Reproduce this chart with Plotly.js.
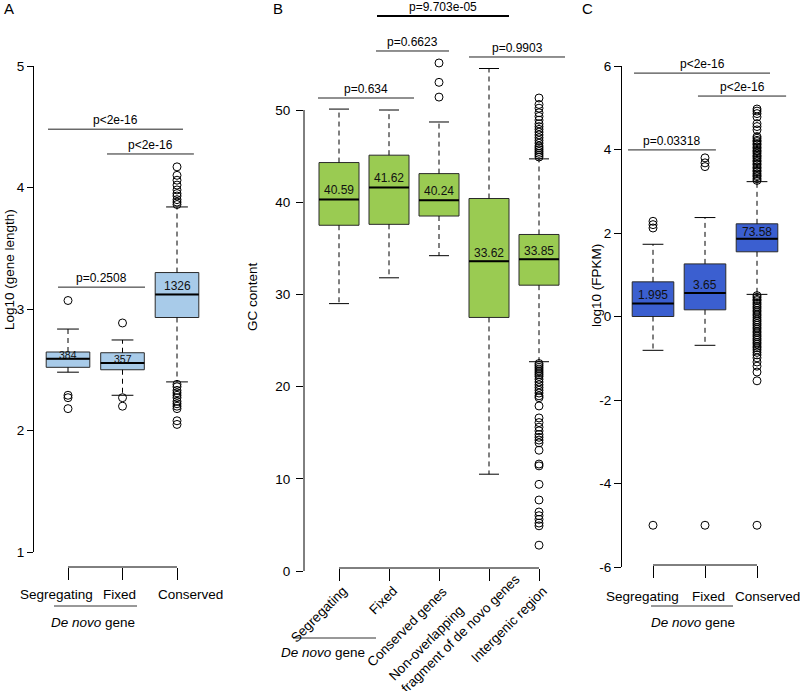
<!DOCTYPE html>
<html><head><meta charset="utf-8">
<script src="https://cdn.plot.ly/plotly-3.0.1.min.js"></script>
<style>html,body{margin:0;padding:0;background:#fff}#chart{width:800px;height:691px}</style>
</head><body><div id="chart"></div>
<script>
// ---------- Panel A : Log10 (gene length) ----------
const catsA  = ['Segregating', 'Fixed', 'Conserved'];
const q1A    = [2.52, 2.50, 2.93];
const medA   = [2.59, 2.555, 3.12];
const q3A    = [2.646, 2.64, 3.30];
const loA    = [2.48, 2.29, 2.40];
const hiA    = [2.835, 2.745, 3.84];
const outA   = [
  [3.07, 2.29, 2.27, 2.18],
  [2.885, 2.27, 2.20],
  [4.17, 4.10, 4.06, 4.02, 3.98, 3.95, 3.93, 3.90, 3.88, 3.86,
   2.38, 2.36, 2.33, 2.31, 2.29, 2.27, 2.24, 2.22, 2.20, 2.18, 2.08, 2.05]
];
const labA   = ['384', '357', '1326'];
const pvA    = ['p<2e-16', 'p<2e-16', 'p=0.2508'];
const tickA  = ['1', '2', '3', '4', '5'];

// ---------- Panel B : GC content ----------
const catsB  = ['Segregating', 'Fixed', 'Conserved genes',
                'Non-overlapping<br>fragment of de novo genes', 'Intergenic region'];
const q1B    = [37.5, 37.6, 38.5, 27.5, 31.0];
const medB   = [40.3, 41.6, 40.2, 33.6, 33.8];
const q3B    = [44.3, 45.1, 43.1, 40.4, 36.5];
const loB    = [29.0, 31.8, 34.2, 10.5, 22.7];
const hiB    = [50.1, 50.0, 48.7, 54.5, 44.7];
const outB   = [
  [],
  [],
  [55.1, 53.0, 51.4],
  [],
  [51.3, 50.6, 50.2, 49.7, 49.3, 48.9, 48.5, 48.2, 47.9, 47.6, 47.3, 47.0, 46.7, 46.4,
   46.1, 45.9, 45.7, 45.5, 45.3, 45.1, 44.9,
   22.5, 22.3, 22.1, 21.9, 21.7, 21.5, 21.3, 21.1, 20.8, 20.5, 20.2, 19.9, 19.6, 19.3,
   19.0, 18.8, 17.9, 16.6, 16.1, 15.6, 15.2, 14.8, 14.5, 14.2, 13.9, 13.1, 11.6, 11.4,
   9.4, 7.7, 6.4, 6.0, 5.6, 5.2, 4.9, 2.8]
];
const labB   = ['40.59', '41.62', '40.24', '33.62', '33.85'];
const pvB    = ['p=0.634', 'p=0.6623', 'p=0.9903', 'p=9.703e-05'];
const tickB  = ['0', '10', '20', '30', '40', '50'];

// ---------- Panel C : log10 (FPKM) ----------
const catsC  = ['Segregating', 'Fixed', 'Conserved'];
const q1C    = [0.0, 0.16, 1.55];
const medC   = [0.31, 0.56, 1.86];
const q3C    = [0.83, 1.26, 2.22];
const loC    = [-0.81, -0.69, 0.53];
const hiC    = [1.73, 2.37, 3.23];
const outC   = [
  [2.28, 2.20, 2.12, -5],
  [3.80, 3.68, 3.59, -5],
  [4.97, 4.92, 4.86, 4.78, 4.62, 4.55, 4.47, 4.31, 4.27, 4.22, 4.19, 4.14, 4.11, 4.06,
   4.03, 3.98, 3.95, 3.91, 3.86, 3.83, 3.79, 3.74, 3.71, 3.66, 3.63, 3.58, 3.55, 3.50,
   3.47, 3.42, 3.38, 3.35, 3.30, 3.26,
   0.50, 0.46, 0.41, 0.38, 0.33, 0.29, 0.24, 0.20, 0.15, 0.11, 0.06, 0.02, -0.03, -0.08,
   -0.12, -0.17, -0.21, -0.26, -0.30, -0.35, -0.39, -0.44, -0.48, -0.53, -0.57, -0.62,
   -0.66, -0.71, -0.75, -0.80, -0.86, -0.92, -0.99, -1.09, -1.19, -1.33, -1.54, -5]
];
const labC   = ['1.995', '3.65', '73.58'];
const pvC    = ['p<2e-16', 'p<2e-16', 'p=0.03318'];
const tickC  = ['-6', '-4', '-2', '0', '2', '4', '6'];

// ---------- drawing ----------
const FONT = 'Liberation Sans, Arial, Helvetica, sans-serif';
const W = 800, H = 691;
const py = p => 1 - p / H;
const pxf = p => p / W;
const BW = 0.8, CW = 0.2;

function panel(xa, ya, q1, med, q3, lo, hi, outs, fill) {
  const idx = q1.map((_, i) => i);
  const wx = [], wy = [], cx = [], cy = [], mx = [], my = [], ox = [], oy = [];
  idx.forEach(i => {
    wx.push(i, i, null, i, i, null); wy.push(q3[i], hi[i], null, q1[i], lo[i], null);
    cx.push(i - CW, i + CW, null, i - CW, i + CW, null); cy.push(hi[i], hi[i], null, lo[i], lo[i], null);
    mx.push(i - BW / 2, i + BW / 2, null); my.push(med[i], med[i], null);
    outs[i].forEach(v => { ox.push(i); oy.push(v); });
  });
  const base = {xaxis: xa, yaxis: ya, hoverinfo: 'skip', showlegend: false};
  return [
    Object.assign({type: 'scatter', mode: 'lines', x: wx, y: wy,
      line: {color: '#000', width: 1, dash: '5px,4px'}}, base),
    Object.assign({type: 'scatter', mode: 'lines', x: cx, y: cy,
      line: {color: '#000', width: 1}}, base),
    Object.assign({type: 'box', orientation: 'v', x: idx, q1: q1, median: med, q3: q3,
      lowerfence: q1, upperfence: q3, width: BW, whiskerwidth: 0, boxpoints: false,
      fillcolor: fill, line: {color: '#2a2a2a', width: 1}}, base),
    Object.assign({type: 'scatter', mode: 'lines', x: mx, y: my,
      line: {color: '#000', width: 2}}, base),
    Object.assign({type: 'scatter', mode: 'markers', x: ox, y: oy, cliponaxis: false,
      marker: {symbol: 'circle-open', size: 8, color: '#000', line: {width: 1, color: '#000'}}}, base)
  ];
}

const data = [].concat(
  panel('x', 'y', q1A, medA, q3A, loA, hiA, outA, '#a8cbe9'),
  panel('x2', 'y2', q1B, medB, q3B, loB, hiB, outB, '#9acb52'),
  panel('x3', 'y3', q1C, medC, q3C, loC, hiC, outC, '#3b5fd0')
);

const tf = {family: FONT, size: 13.5, color: '#000'};
const esc = s => s.replace(/</g, '&lt;');

function xax(domPx, centerPx, unitPx, posPx, n, extra) {
  return Object.assign({
    domain: [pxf(domPx[0]), pxf(domPx[1])],
    range: [(domPx[0] - centerPx) / unitPx, (domPx[1] - centerPx) / unitPx],
    anchor: 'free', position: py(posPx),
    tickvals: Array.from({length: n}, (_, i) => i),
    ticks: 'outside', ticklen: 12, tickcolor: '#000', tickwidth: 1,
    showticklabels: false, showline: false, showgrid: false, zeroline: false,
    fixedrange: true, tickfont: tf
  }, extra || {});
}
// domPx = [bottom pixel, top pixel]
function yax(xa, domPx, range, ticks, showline, extra) {
  return Object.assign({
    anchor: xa, domain: [py(domPx[0]), py(domPx[1])], range: range,
    tickvals: ticks.map(Number), ticktext: ticks,
    ticks: 'outside', ticklen: 6, tickcolor: '#000', tickwidth: 1,
    showline: showline, linecolor: '#000', linewidth: 1,
    showgrid: false, zeroline: false, fixedrange: true, tickfont: tf
  }, extra || {});
}

const layout = {
  width: W, height: H, margin: {l: 0, r: 0, t: 0, b: 0},
  paper_bgcolor: '#fff', plot_bgcolor: 'rgba(0,0,0,0)',
  font: {family: FONT, size: 13.5, color: '#000'},
  showlegend: false, hovermode: false,
  xaxis:  xax([34, 234], 68, 54.5, 567, 3),
  yaxis:  yax('x', [552, 66], [1, 5], tickA, true),
  xaxis2: xax([304, 575], 339, 50, 568, 5),
  yaxis2: yax('x2', [571, 0], [0, 571 / 9.22], tickB, false, {ticklen: 7, ticklabelstandoff: 3}),
  xaxis3: xax([622, 798], 653, 52, 565, 3),
  yaxis3: yax('x3', [567, 66], [-6, 6], tickC, true, {ticklen: 7}),
  shapes: [], annotations: []
};

const S = layout.shapes, A = layout.annotations;
function line(xref, yref, x0, x1, y0, y1, w, c) {
  S.push({type: 'line', xref: xref, yref: yref, x0: x0, x1: x1, y0: y0, y1: y1,
          line: {color: c || '#000', width: w || 1}});
}
function ann(o) {
  A.push(Object.assign({showarrow: false, xanchor: 'center', yanchor: 'middle',
    font: {family: FONT, size: 13.5, color: '#000'}}, o));
}

// B axis line (only from first to last tick)
line('paper', 'y2', pxf(304), pxf(304), 0, 50);
// bottom brackets
line('x', 'paper', 0, catsA.length - 1, py(567), py(567));
line('x2', 'paper', 0, catsB.length - 1, py(568), py(568));
line('x3', 'paper', 0, catsC.length - 1, py(565), py(565));

// significance bars
const sigA = [[-0.367, 2.11, 4.48], [0.716, 2.31, 4.276], [-0.183, 1.413, 3.18]];
const sigB = [[-0.42, 1.5, 51.3], [0.74, 2.2, 56.4], [2.6, 4.52, 55.75], [0.76, 3.4, 60.2]];
const sigC = [[-0.365, 2.25, 5.83], [0.865, 2.56, 5.28], [-0.48, 1.21, 3.99]];
function sig(xr, yr, geo, pv, thick) {
  geo.forEach((g, i) => {
    const w = (thick === i) ? 2 : 1;
    line(xr, yr, g[0], g[1], g[2], g[2], w, w > 1 ? '#000' : '#222');
    ann({xref: xr, yref: yr, x: (g[0] + g[1]) / 2, y: g[2], yanchor: 'bottom', yshift: 0,
         text: esc(pv[i]), font: {family: FONT, size: 12, color: '#000'}});
  });
}
sig('x', 'y', sigA, pvA, -1);
sig('x2', 'y2', sigB, pvB, 3);
sig('x3', 'y3', sigC, pvC, -1);

// numbers inside boxes
function boxLab(xr, yr, labs, med, shifts, sizes) {
  labs.forEach((t, i) => ann({xref: xr, yref: yr, x: i, y: med[i],
    yshift: shifts[i], text: t, font: {family: FONT, size: sizes[i], color: '#111'}}));
}
boxLab('x', 'y', labA, medA, [4, 4, 8], [10.5, 10.5, 12]);
boxLab('x2', 'y2', labB, medB, [9, 9, 9, 8, 8], [12, 12, 12, 12, 12]);
boxLab('x3', 'y3', labC, medC, [9, 8, 7], [12, 12, 12]);

// category labels for A and C
const shA = [-12, -3, 13], shC = [-11, 3, 10];
catsA.forEach((c, i) => ann({xref: 'x', yref: 'paper', x: i, y: py(594), xshift: shA[i], text: c}));
catsC.forEach((c, i) => ann({xref: 'x3', yref: 'paper', x: i, y: py(596), xshift: shC[i], text: c}));
// rotated category labels for B (right end at the tick, lines left-aligned)
catsB.forEach((c, i) => {
  const multi = c.indexOf('<br>') >= 0;
  ann({xref: 'x2', yref: 'paper', x: i, y: py(multi ? 556 : 581), xshift: multi ? 37 : 14,
       xanchor: 'right', yanchor: 'top', textangle: -45, align: 'left', text: c});
});

// De novo gene group labels
line('paper', 'paper', pxf(54), pxf(137), py(606), py(606), 1, '#333');
line('paper', 'paper', pxf(293), pxf(376), py(638), py(638), 1, '#333');
line('paper', 'paper', pxf(651), pxf(733), py(606), py(606), 1, '#333');
ann({xref: 'paper', yref: 'paper', x: pxf(93), y: py(622), text: '<i>De novo</i> gene'});
ann({xref: 'paper', yref: 'paper', x: pxf(323), y: py(652), text: '<i>De novo</i> gene'});
ann({xref: 'paper', yref: 'paper', x: pxf(693), y: py(622), text: '<i>De novo</i> gene'});

// y-axis titles
ann({xref: 'paper', yref: 'paper', x: pxf(9), y: py(270), textangle: -90, text: 'Log10 (gene length)'});
ann({xref: 'paper', yref: 'paper', x: pxf(252), y: py(297), textangle: -90, text: 'GC content'});
ann({xref: 'paper', yref: 'paper', x: pxf(596), y: py(286), textangle: -90, text: 'log10 (FPKM)'});

// panel letters
ann({xref: 'paper', yref: 'paper', x: pxf(8.5), y: py(9), text: 'A', font: {family: FONT, size: 15, color: '#000'}});
ann({xref: 'paper', yref: 'paper', x: pxf(278), y: py(9), text: 'B', font: {family: FONT, size: 15, color: '#000'}});
ann({xref: 'paper', yref: 'paper', x: pxf(587), y: py(9), text: 'C', font: {family: FONT, size: 15, color: '#000'}});

Plotly.newPlot('chart', data, layout, {staticPlot: true, displayModeBar: false});
</script>
</body></html>
